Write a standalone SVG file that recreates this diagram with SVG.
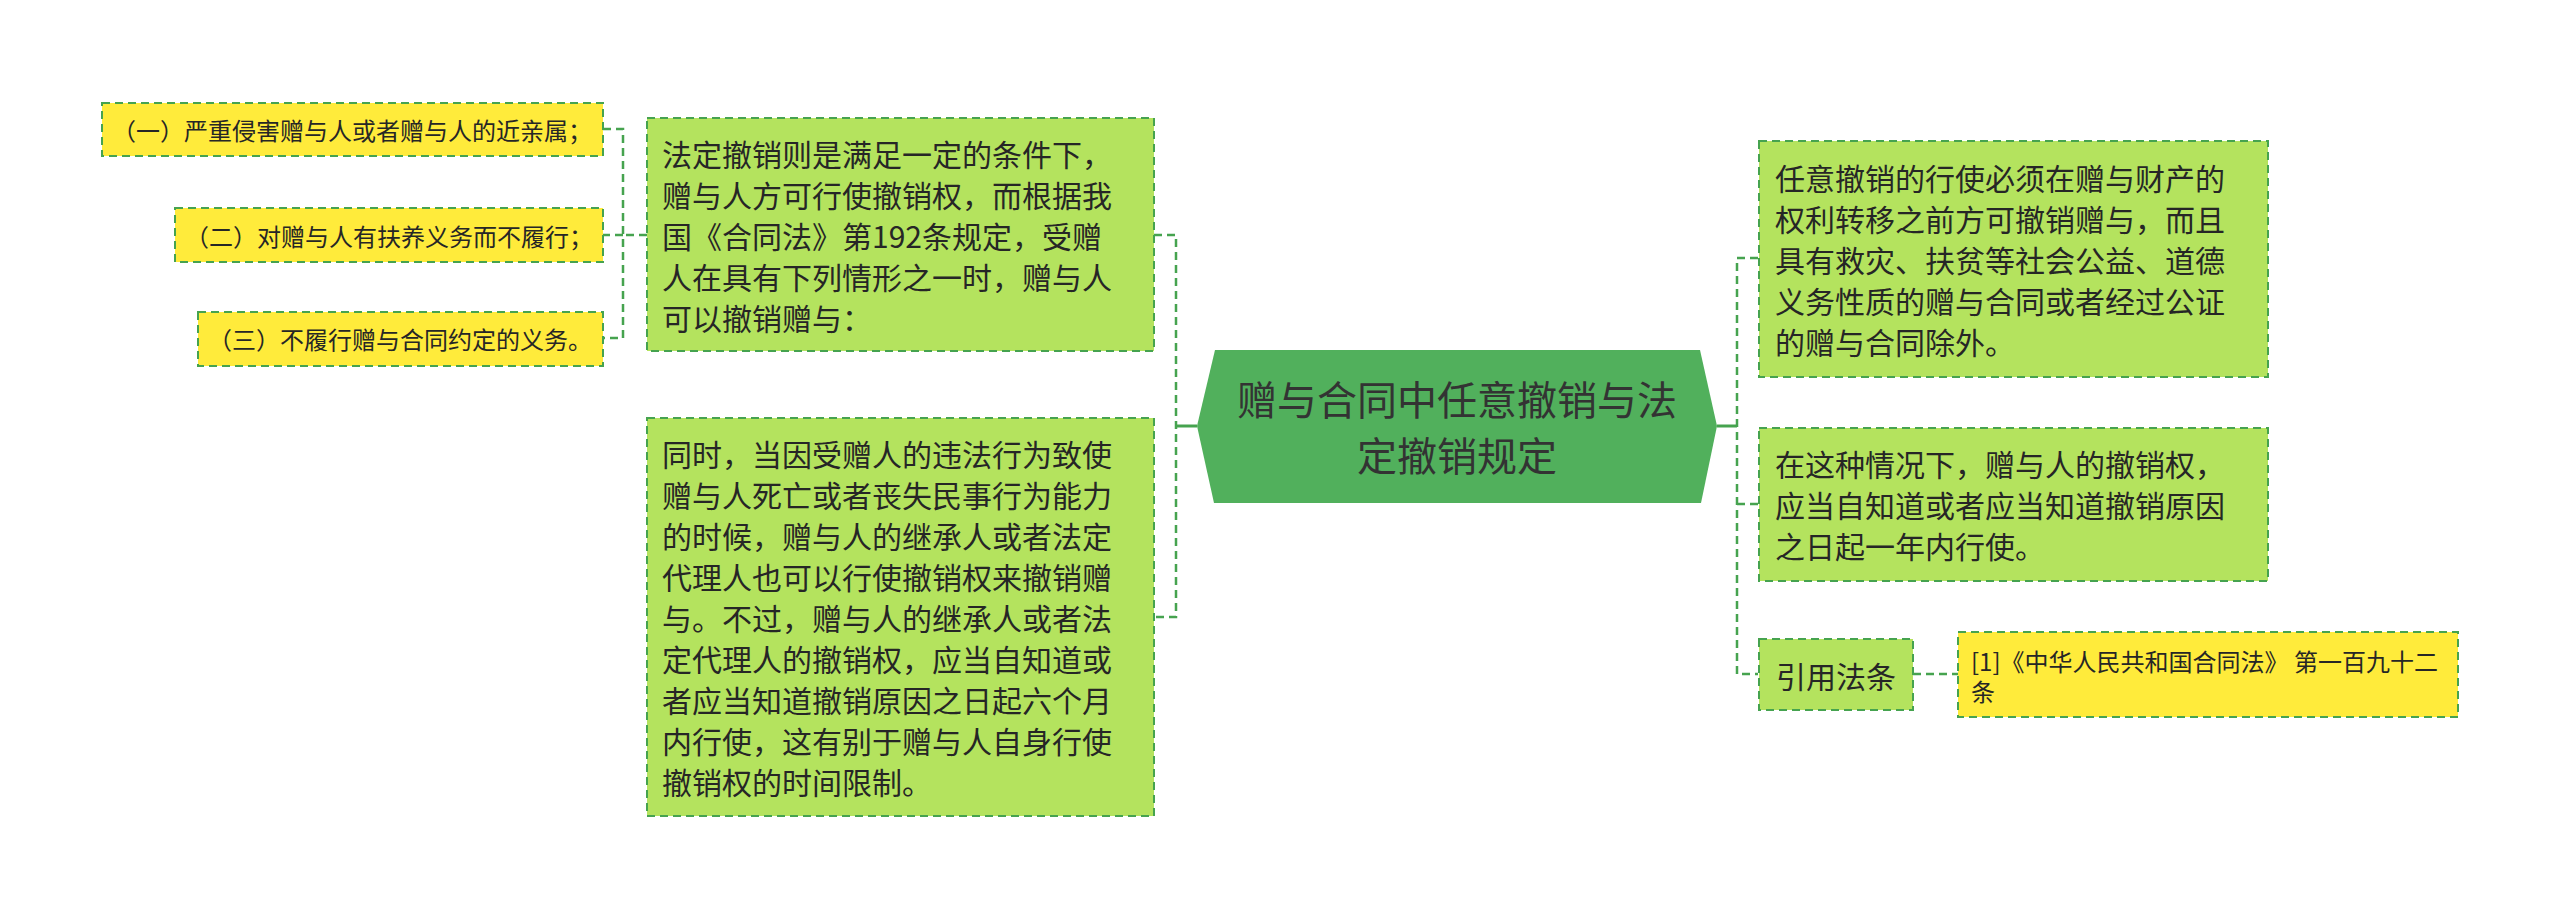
<svg xmlns="http://www.w3.org/2000/svg" width="2560" height="919" viewBox="0 0 2560 919">
<style>
text{font-family:"Noto Sans CJK SC","Noto Sans",sans-serif;fill:#262626;dominant-baseline:central}
.y{fill:#ffeb3b;stroke:#46a34f;stroke-width:2;stroke-dasharray:8 5}
.g{fill:#b4e35e;stroke:#46a34f;stroke-width:2;stroke-dasharray:8 5}
.c{fill:#51b05c}
.s{font-size:24px}
.m{font-size:30px}
.t{font-size:40px;fill:#333;text-anchor:middle}
.ln{fill:none;stroke:#46a34f;stroke-width:2.5;stroke-dasharray:8 5}
.ls{fill:none;stroke:#46a34f;stroke-width:3}
</style>
<g id="connectors">
<path class="ls" d="M1197 426H1176"/>
<path class="ln" d="M1154 235H1176V617H1154"/>
<path class="ls" d="M1717 426H1737"/>
<path class="ln" d="M1758 258H1737V674H1758M1737 504H1758"/>
<path class="ln" d="M647 235H623M603 129H623V338H603M623 235H603"/>
<path class="ln" d="M1913 674H1958"/>
</g>
<g id="center">
<polygon class="c" points="1215,350 1700,350 1717,426 1701,503 1214,503 1197,426"/>
<text class="t"><tspan x="1457" y="398">赠与合同中任意撤销与法</tspan><tspan x="1457" y="454">定撤销规定</tspan></text>
</g>
<g id="n1">
<rect class="y" x="102" y="103" width="501" height="53"/>
<text class="s" x="112" y="129">（一）严重侵害赠与人或者赠与人的近亲属；</text>
</g>
<g id="n2">
<rect class="y" x="175" y="208" width="428" height="54"/>
<text class="s" x="185" y="235">（二）对赠与人有扶养义务而不履行；</text>
</g>
<g id="n3">
<rect class="y" x="198" y="312" width="405" height="54"/>
<text class="s" x="208" y="338">（三）不履行赠与合同约定的义务。</text>
</g>
<g id="n4">
<rect class="g" x="647" y="118" width="507" height="233"/>
<text class="m"><tspan x="662" y="153">法定撤销则是满足一定的条件下，</tspan><tspan x="662" y="194">赠与人方可行使撤销权，而根据我</tspan><tspan x="662" y="235">国《合同法》第192条规定，受赠</tspan><tspan x="662" y="276">人在具有下列情形之一时，赠与人</tspan><tspan x="662" y="317">可以撤销赠与：</tspan></text>
</g>
<g id="n5">
<rect class="g" x="647" y="418" width="507" height="398"/>
<text class="m"><tspan x="662" y="453">同时，当因受赠人的违法行为致使</tspan><tspan x="662" y="494">赠与人死亡或者丧失民事行为能力</tspan><tspan x="662" y="535">的时候，赠与人的继承人或者法定</tspan><tspan x="662" y="576">代理人也可以行使撤销权来撤销赠</tspan><tspan x="662" y="617">与。不过，赠与人的继承人或者法</tspan><tspan x="662" y="658">定代理人的撤销权，应当自知道或</tspan><tspan x="662" y="699">者应当知道撤销原因之日起六个月</tspan><tspan x="662" y="740">内行使，这有别于赠与人自身行使</tspan><tspan x="662" y="781">撤销权的时间限制。</tspan></text>
</g>
<g id="n6">
<rect class="g" x="1759" y="141" width="509" height="236"/>
<text class="m"><tspan x="1775" y="177">任意撤销的行使必须在赠与财产的</tspan><tspan x="1775" y="218">权利转移之前方可撤销赠与，而且</tspan><tspan x="1775" y="259">具有救灾、扶贫等社会公益、道德</tspan><tspan x="1775" y="300">义务性质的赠与合同或者经过公证</tspan><tspan x="1775" y="341">的赠与合同除外。</tspan></text>
</g>
<g id="n7">
<rect class="g" x="1759" y="428" width="509" height="153"/>
<text class="m"><tspan x="1775" y="463">在这种情况下，赠与人的撤销权，</tspan><tspan x="1775" y="504">应当自知道或者应当知道撤销原因</tspan><tspan x="1775" y="545">之日起一年内行使。</tspan></text>
</g>
<g id="n8">
<rect class="g" x="1759" y="639" width="154" height="71"/>
<text class="m" x="1836" y="675" text-anchor="middle">引用法条</text>
</g>
<g id="n9">
<rect class="y" x="1958" y="632" width="500" height="85"/>
<text class="s"><tspan x="1971" y="660">[1]《中华人民共和国合同法》 第一百九十二</tspan><tspan x="1971" y="690">条</tspan></text>
</g>
</svg>
